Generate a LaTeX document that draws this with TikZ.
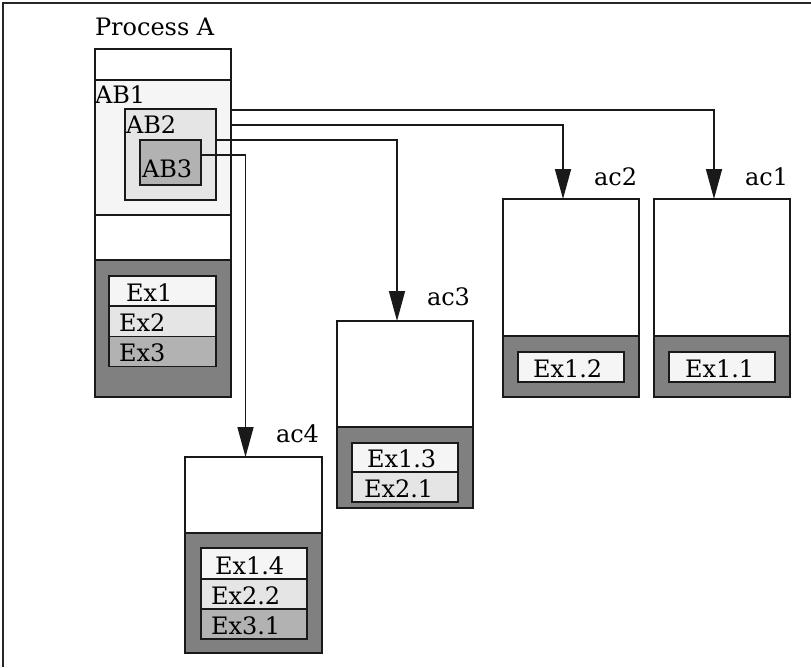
\documentclass[tikz,border=0pt]{standalone}
\usepackage{fontspec}
\setmainfont{DejaVu Serif}
\usetikzlibrary{arrows.meta,calc}
\definecolor{cA}{gray}{0.96}
\definecolor{cB}{gray}{0.90}
\definecolor{cC}{gray}{0.70}
\definecolor{cD}{gray}{0.50}
\tikzset{
  box/.style={draw=black!90, line width=1.6pt, inner sep=0pt, outer sep=0pt, anchor=north west},
  txt/.style={inner sep=0pt, outer sep=0pt, anchor=base west, font=\fontsize{24}{28}\selectfont},
  conn/.style={draw=black!90, line width=1.6pt, -{Triangle[length=30pt,width=16pt]}}
}
\begin{document}
\begin{tikzpicture}[x=1pt,y=-1pt]
\useasboundingbox (0,0) rectangle (811,667);
\draw[line width=1.8pt, black!85] (3,667) -- (3,3) -- (811,3);

% Process A column
\node[box, fill=white, minimum width=136, minimum height=31] (PAtop) at (95,49) {};
\node[box, fill=cA, minimum width=136, minimum height=135] (AB1) at (95,80) {};
\node[box, fill=white, minimum width=136, minimum height=45] (PAmid) at (95,215) {};
\node[box, fill=cD, minimum width=136, minimum height=137] (PAdark) at (95,260) {};
\node[box, fill=cB, minimum width=91, minimum height=91] (AB2) at (125,109) {};
\node[box, fill=cC, minimum width=61, minimum height=45] (AB3) at (140,140) {};
\node[box, fill=cA, minimum width=107, minimum height=30] (PEx1) at (109,276) {};
\node[box, fill=cB, minimum width=107, minimum height=30.5] (PEx2) at (109,306) {};
\node[box, fill=cC, minimum width=107, minimum height=30] (PEx3) at (109,336.5) {};

\node[txt] (tPA) at (95,35) {Process A};
\node[txt] (tAB1) at (95,103) {AB1};
\node[txt] (tAB2) at (126,133) {AB2};
\node[txt] (tAB3) at (142,177) {AB3};
\node[txt] (tEx1) at (126,301) {Ex1};
\node[txt] (tEx2) at (119,331) {Ex2};
\node[txt] (tEx3) at (119,361) {Ex3};

% ac1
\node[box, fill=white, minimum width=136, minimum height=137] (ac1) at (654,199) {};
\node[box, fill=cD, minimum width=136, minimum height=61] (ac1d) at (654,336) {};
\node[box, fill=cA, minimum width=106, minimum height=30] (ac1e) at (669,352) {};
\node[txt] (tac1) at (745,185) {ac1};
\node[txt] (tE11) at (685,377) {Ex1.1};

% ac2
\node[box, fill=white, minimum width=136, minimum height=137] (ac2) at (503,199) {};
\node[box, fill=cD, minimum width=136, minimum height=61] (ac2d) at (503,336) {};
\node[box, fill=cA, minimum width=106, minimum height=30] (ac2e) at (518,352) {};
\node[txt] (tac2) at (594,185) {ac2};
\node[txt] (tE12) at (533,377) {Ex1.2};

% ac3
\node[box, fill=white, minimum width=136, minimum height=106] (ac3) at (337,321) {};
\node[box, fill=cD, minimum width=136, minimum height=81] (ac3d) at (337,427) {};
\node[box, fill=cA, minimum width=106, minimum height=29] (ac3e1) at (352,443) {};
\node[box, fill=cB, minimum width=106, minimum height=30] (ac3e2) at (352,472) {};
\node[txt] (tac3) at (427,305) {ac3};
\node[txt] (tE13) at (367,467) {Ex1.3};
\node[txt] (tE21) at (364,497) {Ex2.1};

% ac4
\node[box, fill=white, minimum width=137, minimum height=76] (ac4) at (185,457) {};
\node[box, fill=cD, minimum width=137, minimum height=120] (ac4d) at (185,533) {};
\node[box, fill=cA, minimum width=106, minimum height=31] (ac4e1) at (201,548) {};
\node[box, fill=cB, minimum width=106, minimum height=30] (ac4e2) at (201,579) {};
\node[box, fill=cC, minimum width=106, minimum height=30] (ac4e3) at (201,609) {};
\node[txt] (tac4) at (276,442) {ac4};
\node[txt] (tE14) at (215,574) {Ex1.4};
\node[txt] (tE22) at (211,604) {Ex2.2};
\node[txt] (tE31) at (211,634) {Ex3.1};

% connectors
\draw[conn] ($(AB1.north east)+(0,30)$) -| ($(ac1.north)+(-8,0)$);
\draw[conn] ($(AB1.north east)+(0,45)$) -| ($(ac2.north)+(-8,0)$);
\draw[conn] ($(AB2.north east)+(0,31)$) -| ($(ac3.north)+(-8,0)$);
\draw[conn] ($(AB3.north east)+(0,15)$) -| ($(ac4.north)+(-8,0)$);
\end{tikzpicture}
\end{document}
